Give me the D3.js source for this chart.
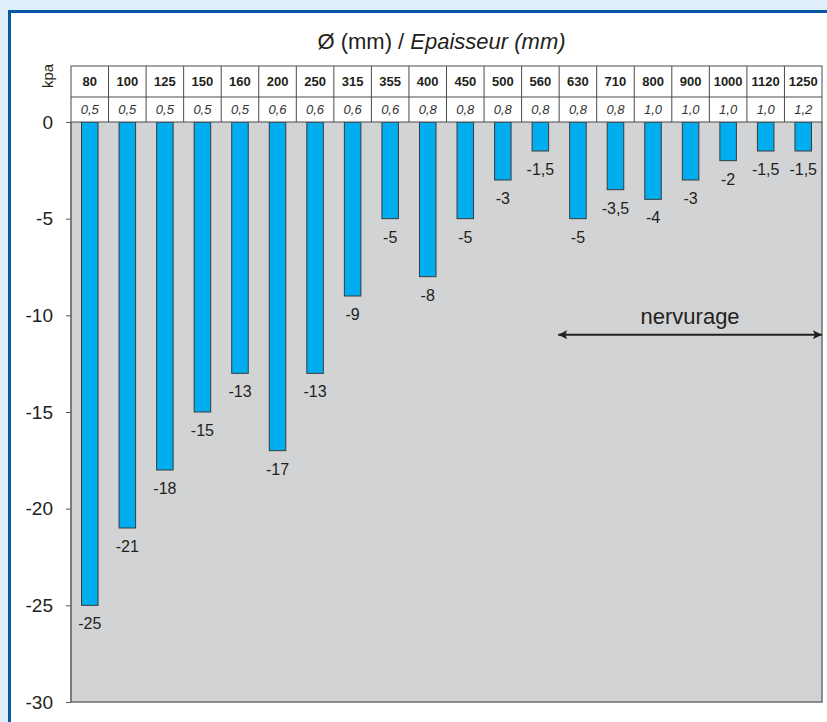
<!DOCTYPE html>
<html><head><meta charset="utf-8">
<script src="https://cdn.jsdelivr.net/npm/d3@7"></script>
<style>
html,body{margin:0;padding:0;background:#fff;}
svg{display:block;font-family:"Liberation Sans",Arial,Helvetica,sans-serif;}
</style></head>
<body>
<svg id="c" width="827" height="722"></svg>
<script>
const diameters = ["80","100","125","150","160","200","250","315","355","400","450","500","560","630","710","800","900","1000","1120","1250"];
const thicknesses = ["0,5","0,5","0,5","0,5","0,5","0,6","0,6","0,6","0,6","0,8","0,8","0,8","0,8","0,8","0,8","1,0","1,0","1,0","1,0","1,2"];
const values = [-25,-21,-18,-15,-13,-17,-13,-9,-5,-8,-5,-3,-1.5,-5,-3.5,-4,-3,-2,-1.5,-1.5];
const yTicks = [0,-5,-10,-15,-20,-25,-30];
const titleMain = "Ø (mm) / ";
const titleItalic = "Epaisseur (mm)";
const unitLabel = "kpa";
const noteLabel = "nervurage";
const noteFrom = "630";
const noteLevel = -11;

const svg = d3.select("#c");
const L = 71, R = 822, T = 122, B = 702;
const fmt = v => String(v).replace(".", ",");

// page frame
svg.append("rect").attr("x",0).attr("y",0).attr("width",827).attr("height",722).attr("fill","#dff0fb");
svg.append("rect").attr("x",11).attr("y",13).attr("width",816).attr("height",709).attr("fill","#fff");
svg.append("path").attr("d","M9.5,722V11.5H827").attr("fill","none").attr("stroke","#0a56a8").attr("stroke-width",3);

const x = d3.scaleBand().domain(diameters).range([L, R]).padding(0);
const y = d3.scaleLinear().domain([-30, 0]).range([B, T]);
const bw = x.bandwidth() * 0.44;

// plot background
svg.append("rect").attr("x",L).attr("y",T).attr("width",R-L).attr("height",B-T).attr("fill","#d1d3d4");
svg.append("path").attr("d",`M${R},${T}V${B}H${L}`).attr("fill","none").attr("stroke","#6d6e71").attr("stroke-width",1.5);

// bars
const data = diameters.map((d,i)=>({d, t:thicknesses[i], v:values[i]}));
svg.append("g").selectAll("rect").data(data).join("rect")
  .attr("x", d => x(d.d) + (x.bandwidth()-bw)/2)
  .attr("y", y(0))
  .attr("width", bw)
  .attr("height", d => y(d.v) - y(0))
  .attr("fill", "#00aeef")
  .attr("stroke", "#3a3a3a")
  .attr("stroke-width", 1);

// value labels
svg.append("g").selectAll("text").data(data).join("text")
  .attr("x", d => x(d.d) + x.bandwidth()/2)
  .attr("y", d => y(d.v) + 24)
  .attr("text-anchor","middle")
  .attr("font-size",16)
  .attr("fill","#231f20")
  .text(d => fmt(d.v));

// y axis
const ax = svg.append("g").attr("transform",`translate(${L},0)`)
  .call(d3.axisLeft(y).tickValues(yTicks).tickSize(5).tickPadding(13).tickFormat(fmt));
ax.select(".domain").attr("stroke","#58595b").attr("stroke-width",1.5).attr("d",`M0,${T}V${B}`);
ax.selectAll(".tick line").attr("stroke","#58595b");
ax.selectAll(".tick text").attr("font-size",19).attr("fill","#231f20").attr("font-family","Liberation Sans, Arial, sans-serif");

// header table
const hT = 66, hM = 97;
const hg = svg.append("g");
hg.append("rect").attr("x",L).attr("y",hT).attr("width",R-L).attr("height",T-hT).attr("fill","#fff").attr("stroke","#4a4a4a").attr("stroke-width",1);
hg.append("line").attr("x1",L).attr("x2",R).attr("y1",hM).attr("y2",hM).attr("stroke","#4a4a4a");
hg.selectAll("line.v").data(diameters.slice(1)).join("line").attr("class","v")
  .attr("x1", d=>x(d)).attr("x2", d=>x(d)).attr("y1",hT).attr("y2",T).attr("stroke","#4a4a4a");
hg.selectAll("text.d").data(data).join("text").attr("class","d")
  .attr("x", d => x(d.d) + x.bandwidth()/2).attr("y", 86)
  .attr("text-anchor","middle").attr("font-size",13).attr("font-weight","bold").attr("fill","#231f20")
  .text(d => d.d);
hg.selectAll("text.t").data(data).join("text").attr("class","t")
  .attr("x", d => x(d.d) + x.bandwidth()/2).attr("y", 114)
  .attr("text-anchor","middle").attr("font-size",13).attr("font-style","italic").attr("fill","#333")
  .text(d => d.t);

// title
const tt = svg.append("text").attr("x",(L+R)/2 - 5).attr("y",49).attr("text-anchor","middle")
  .attr("font-size",22).attr("fill","#231f20");
tt.append("tspan").text(titleMain);
tt.append("tspan").attr("font-style","italic").text(titleItalic);

// unit label
svg.append("text").attr("transform","translate(53,76) rotate(-90)").attr("text-anchor","middle")
  .attr("font-size",15).attr("fill","#231f20").text(unitLabel);

// nervurage arrow
const defs = svg.append("defs");
defs.append("marker").attr("id","ah").attr("viewBox","0 0 10 10").attr("refX",10).attr("refY",5)
  .attr("markerWidth",13).attr("markerHeight",9).attr("markerUnits","userSpaceOnUse").attr("orient","auto-start-reverse")
  .append("path").attr("d","M0,0L10,5L0,10L2,5Z").attr("fill","#231f20");
const ax1 = x(noteFrom) - 1, ax2 = R;
const ay = y(noteLevel);
svg.append("line").attr("x1",ax1).attr("x2",ax2).attr("y1",ay).attr("y2",ay)
  .attr("stroke","#231f20").attr("stroke-width",2)
  .attr("marker-start","url(#ah)").attr("marker-end","url(#ah)");
svg.append("text").attr("x",(ax1+ax2)/2).attr("y",ay-11).attr("text-anchor","middle")
  .attr("font-size",22).attr("fill","#231f20").text(noteLabel);
</script>
</body></html>
